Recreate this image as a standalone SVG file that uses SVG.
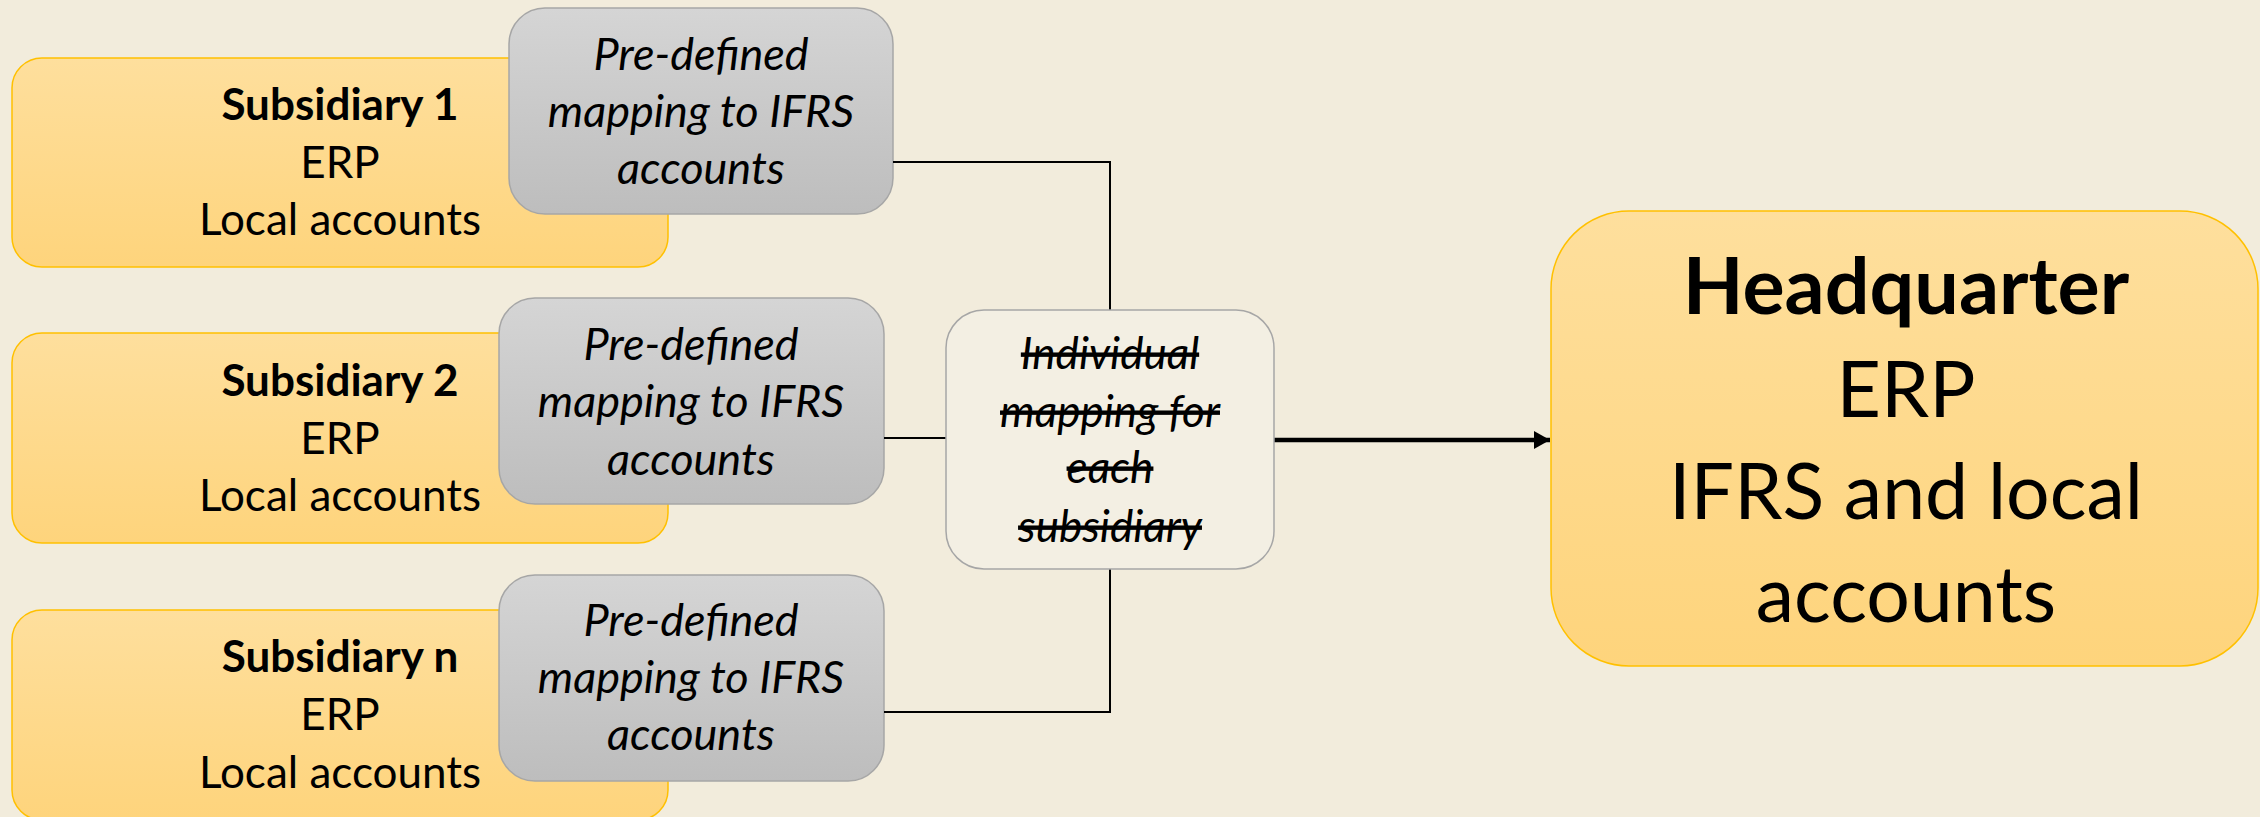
<svg xmlns="http://www.w3.org/2000/svg" width="2260" height="817" viewBox="0 0 2260 817">
<defs>
<linearGradient id="gY" x1="0" y1="0" x2="0" y2="1">
<stop offset="0" stop-color="#FEDF9D"/>
<stop offset="1" stop-color="#FED47C"/>
</linearGradient>
<linearGradient id="gG" x1="0" y1="0" x2="0" y2="1">
<stop offset="0" stop-color="#D5D5D5"/>
<stop offset="1" stop-color="#BDBDBD"/>
</linearGradient>
<marker id="arr" markerUnits="userSpaceOnUse" markerWidth="18" markerHeight="20" refX="16" refY="10" orient="auto">
<path d="M0,1 L16,10 L0,19 z" fill="#000"/>
</marker>
<style>
.sub{fill:url(#gY);stroke:#FFC000;stroke-width:1.5}
.map{fill:url(#gG);stroke:#A6A6A6;stroke-width:1.5}
.ind{fill:#F3EFE3;stroke:#A6A6A6;stroke-width:1.5}
.t{font-family:Lato,"Open Sans","Liberation Sans",sans-serif;font-size:44px;fill:#000;text-anchor:middle}
.g{font-size:45px}
.b{font-weight:bold}
.i{font-style:italic}
.s{text-decoration:line-through}
.hq{font-family:Lato,"Open Sans","Liberation Sans",sans-serif;font-size:77px;fill:#000;text-anchor:middle}
.hb{font-size:79px;font-weight:bold}
.c{fill:none;stroke:#000;stroke-width:2}
</style>
</defs>
<rect width="2260" height="817" fill="#F2ECDC"/>

<g id="subsidiary1">
<rect class="sub" x="12" y="58" width="656" height="209" rx="30"/>
<text class="t b" x="340" y="120">Subsidiary 1</text>
<text class="t" x="340" y="178">ERP</text>
<text class="t" x="340" y="235">Local accounts</text>
</g>
<g id="subsidiary2">
<rect class="sub" x="12" y="333" width="656" height="210" rx="30"/>
<text class="t b" x="340" y="396">Subsidiary 2</text>
<text class="t" x="340" y="454">ERP</text>
<text class="t" x="340" y="511">Local accounts</text>
</g>
<g id="subsidiaryn">
<rect class="sub" x="12" y="610" width="656" height="210" rx="30"/>
<text class="t b" x="340" y="672">Subsidiary n</text>
<text class="t" x="340" y="730">ERP</text>
<text class="t" x="340" y="788">Local accounts</text>
</g>

<g id="mapping1">
<rect class="map" x="509" y="8" width="384" height="206" rx="36"/>
<text class="t g i" x="701" y="70">Pre-defined</text>
<text class="t g i" x="701" y="127">mapping to IFRS</text>
<text class="t g i" x="701" y="184">accounts</text>
</g>
<g id="mapping2">
<rect class="map" x="499" y="298" width="385" height="206" rx="36"/>
<text class="t g i" x="691" y="360">Pre-defined</text>
<text class="t g i" x="691" y="417">mapping to IFRS</text>
<text class="t g i" x="691" y="475">accounts</text>
</g>
<g id="mappingn">
<rect class="map" x="499" y="575" width="385" height="206" rx="36"/>
<text class="t g i" x="691" y="636">Pre-defined</text>
<text class="t g i" x="691" y="693">mapping to IFRS</text>
<text class="t g i" x="691" y="750">accounts</text>
</g>

<g id="connectors">
<path class="c" d="M893,162 H1110 V310"/>
<path class="c" d="M884,438 H946"/>
<path class="c" d="M884,712 H1110 V569"/>
<path d="M1274,440 H1550" fill="none" stroke="#000" stroke-width="4.5" marker-end="url(#arr)"/>
</g>

<g id="individual">
<rect class="ind" x="946" y="310" width="328" height="259" rx="38"/>
<text class="t i s" x="1110" y="369">Individual</text>
<text class="t i s" x="1110" y="427">mapping for</text>
<text class="t i s" x="1110" y="483">each</text>
<text class="t i s" x="1110" y="542">subsidiary</text>
</g>

<g id="headquarter">
<rect class="sub" x="1551" y="211" width="707" height="455" rx="78"/>
<text class="hq hb" x="1906" y="314">Headquarter</text>
<text class="hq" x="1906" y="417">ERP</text>
<text class="hq" x="1906" y="519">IFRS and local</text>
<text class="hq" x="1906" y="622">accounts</text>
</g>
</svg>
